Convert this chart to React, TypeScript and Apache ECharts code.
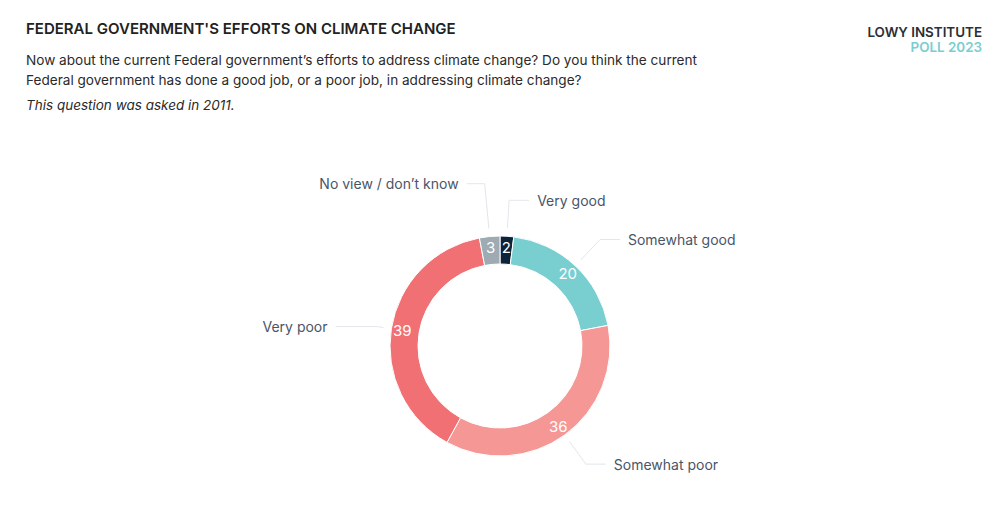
import React, { useEffect, useRef } from "react";
import * as echarts from "echarts";

const categories = ["Very good", "Somewhat good", "Somewhat poor", "Very poor", "No view / don\u2019t know"];
const values = [2, 20, 36, 39, 3];
const colors = ["#0c2339", "#79ced0", "#f59794", "#f07073", "#9eabb3"];

const titleText = "FEDERAL GOVERNMENT'S EFFORTS ON CLIMATE CHANGE";
const subtitleLines = [
  "Now about the current Federal government\u2019s efforts to address climate change? Do you think the current",
  "Federal government has done a good job, or a poor job, in addressing climate change?",
];
const noteText = "This question was asked in 2011.";
const brandLines = ["LOWY INSTITUTE", "POLL 2023"];

const FONT = "Inter, 'Noto Sans', sans-serif";

export default function App() {
  const ref = useRef<HTMLDivElement>(null);
  useEffect(() => {
    document.body.style.margin = "0";
    const chart = echarts.init(ref.current!, null, { renderer: "svg" });
    const innerData = categories.map((c, i) => ({
      name: c,
      value: values[i],
      itemStyle: { color: colors[i] },
    }));
    const lineOverrides: Record<number, any> = {
      3: { length: 6, length2: 42 },
      4: { length: 45, length2: 18 },
    };
    const outerData = categories.map((c, i) => ({
      name: c,
      value: values[i],
      labelLine: lineOverrides[i],
    }));
    chart.setOption({
      animation: false,
      textStyle: { fontFamily: FONT },
      graphic: [
        {
          type: "text",
          left: 26,
          top: 21,
          style: { text: titleText, font: `600 15px ${FONT}`, fill: "#222222" },
        },
        ...subtitleLines.map((t, i) => ({
          type: "text",
          left: 26,
          top: 53 + i * 20,
          style: { text: t, font: `13.6px ${FONT}`, fill: "#2a2a2a" },
        })),
        {
          type: "text",
          left: 26,
          top: 98,
          style: { text: noteText, font: `italic 13.5px ${FONT}`, fill: "#2a2a2a" },
        },
        {
          type: "text",
          right: 18,
          top: 25,
          style: { text: brandLines[0], font: `600 13.4px ${FONT}`, fill: "#2b2f36", align: "right" },
        },
        {
          type: "text",
          right: 18,
          top: 40,
          style: { text: brandLines[1], font: `600 13.4px ${FONT}`, fill: "#79ced0", align: "right" },
        },
      ],
      series: [
        {
          type: "pie",
          center: [500, 346],
          radius: [82, 110],
          startAngle: 90,
          clockwise: true,
          avoidLabelOverlap: false,
          itemStyle: { borderColor: "#ffffff", borderWidth: 1 },
          label: {
            show: true,
            position: "inside",
            formatter: "{c}",
            color: "#ffffff",
            fontSize: 15,
            fontFamily: FONT,
          },
          labelLine: { show: false },
          emphasis: { disabled: true },
          data: innerData,
          z: 2,
        },
        {
          type: "pie",
          center: [500, 346],
          radius: [82, 118],
          startAngle: 90,
          clockwise: true,
          silent: true,
          avoidLabelOverlap: false,
          itemStyle: { color: "rgba(0,0,0,0)" },
          label: {
            show: true,
            position: "outside",
            formatter: "{b}",
            color: "#4a5568",
            fontSize: 14,
            fontFamily: FONT,
            distanceToLabelLine: 8,
          },
          labelLine: {
            show: true,
            length: 28,
            length2: 20,
            lineStyle: { color: "#e2e6ec", width: 1 },
          },
          emphasis: { disabled: true },
          data: outerData,
          z: 1,
        },
      ],
    });
    return () => chart.dispose();
  }, []);
  return <div ref={ref} style={{ width: 1000, height: 525 }} />;
}
